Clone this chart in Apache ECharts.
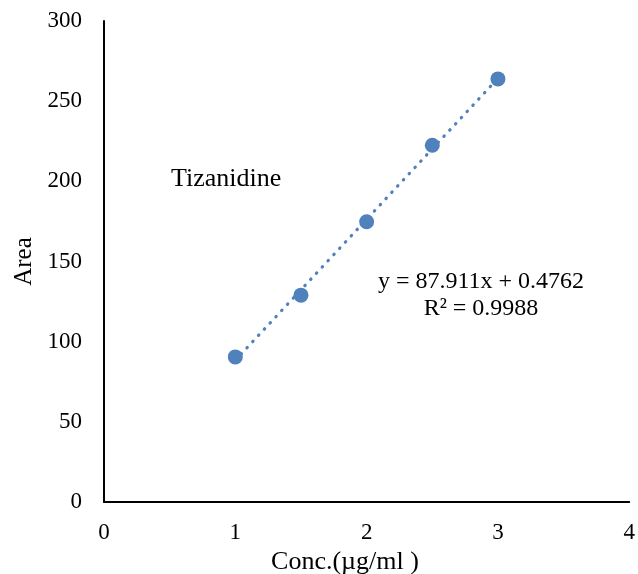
<!DOCTYPE html>
<html>
<head>
<meta charset="utf-8">
<script src="https://cdn.jsdelivr.net/npm/echarts@6/dist/echarts.min.js"></script>
<style>
  html, body { margin: 0; padding: 0; background: #fff; }
  #main { width: 638px; height: 574px; }
</style>
</head>
<body>
<div id="main"></div>
<script>
  // 浓度 (µg/ml) 与峰面积
  var concX = [1, 1.5, 2, 2.5, 3];
  var areaY = [90.5, 129.0, 174.8, 222.5, 263.9];
  // 趋势线两端 (y = 87.911x + 0.4762)
  var trendX = [1, 3];
  var trendY = [88.39, 264.21];
  var xTicks = [0, 1, 2, 3, 4];
  var yTicks = [0, 50, 100, 150, 200, 250, 300];

  var font = 'Liberation Serif';
  var blue = '#4f81bd';

  var myChart = echarts.init(document.getElementById('main'));
  var option = {
    backgroundColor: '#fff',
    animation: false,
    grid: { left: 104, right: 7, top: 21, bottom: 72 },
    xAxis: {
      type: 'value',
      min: xTicks[0],
      max: xTicks[xTicks.length - 1],
      interval: 1,
      splitLine: { show: false },
      axisTick: { show: false },
      axisLine: { lineStyle: { color: '#000', width: 2 } },
      axisLabel: { color: '#000', fontFamily: font, fontSize: 23, margin: 19 }
    },
    yAxis: {
      type: 'value',
      min: yTicks[0],
      max: yTicks[yTicks.length - 1],
      interval: 50,
      name: 'Area',
      nameLocation: 'middle',
      nameGap: 67,
      nameTextStyle: { color: '#000', fontFamily: font, fontSize: 25 },
      splitLine: { show: false },
      axisTick: { show: false },
      axisLine: { show: true, lineStyle: { color: '#000', width: 2 } },
      axisLabel: { color: '#000', fontFamily: font, fontSize: 23, margin: 22 }
    },
    graphic: [
      {
        type: 'text', left: 171, top: 166,
        style: { text: 'Tizanidine', fill: '#000', font: '26px "Liberation Serif"' }
      },
      {
        type: 'text', x: 481, y: 295,
        style: {
          text: 'y = 87.911x + 0.4762\nR² = 0.9988',
          fill: '#000', font: '24px "Liberation Serif"',
          align: 'center', verticalAlign: 'middle', lineHeight: 27
        }
      },
      {
        type: 'text', x: 345, y: 562,
        style: {
          text: 'Conc.(µg/ml )', fill: '#000', font: '26px "Liberation Serif"',
          align: 'center', verticalAlign: 'middle'
        }
      }
    ],
    series: [
      {
        type: 'line',
        data: trendX.map(function (x, i) { return [x, trendY[i]]; }),
        symbol: 'none',
        lineStyle: { color: blue, width: 3.2, type: [0.5, 8], cap: 'round' },
        z: 1
      },
      {
        type: 'scatter',
        data: concX.map(function (x, i) { return [x, areaY[i]]; }),
        symbolSize: 15,
        itemStyle: { color: blue, opacity: 1 },
        z: 2
      }
    ]
  };
  myChart.setOption(option);
</script>
</body>
</html>
